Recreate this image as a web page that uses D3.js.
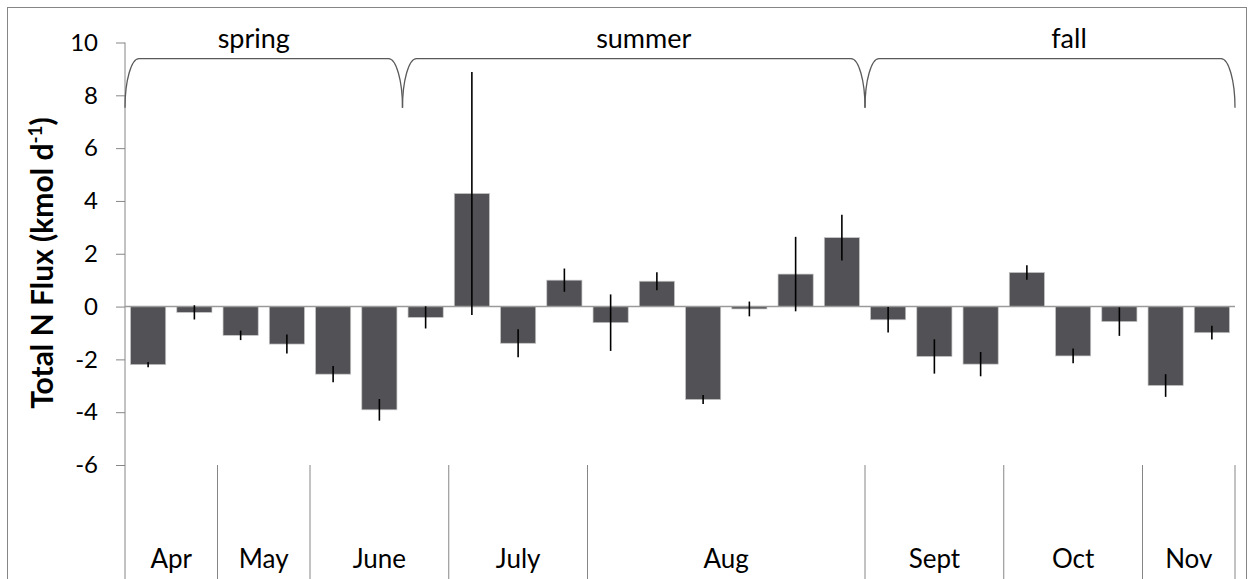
<!DOCTYPE html>
<html>
<head>
<meta charset="utf-8">
<script src="https://cdn.jsdelivr.net/npm/d3@7"></script>
<style>
  html, body { margin: 0; padding: 0; background: #fff; }
  svg { display: block; }
  text { font-family: Lato, "Noto Sans", sans-serif; fill: #000; }
</style>
</head>
<body>
<svg id="chart" width="1253" height="579"></svg>
<script>
// Sampling events, in order, with their mean total N flux and standard error
const samples = ["Apr-1","Apr-2","May-1","May-2","Jun-1","Jun-2","Jun-3",
                 "Jul-1","Jul-2","Jul-3","Aug-1","Aug-2","Aug-3","Aug-4","Aug-5","Aug-6",
                 "Sep-1","Sep-2","Sep-3","Oct-1","Oct-2","Oct-3","Nov-1","Nov-2"];
const fluxMean = [-2.2, -0.22, -1.09, -1.42, -2.56, -3.91, -0.41,
                  4.28, -1.39, 1.0, -0.61, 0.96, -3.52, -0.09, 1.23, 2.61,
                  -0.5, -1.89, -2.18, 1.29, -1.87, -0.57, -2.99, -0.99];
const fluxErr = [0.1, 0.27, 0.18, 0.36, 0.31, 0.41, 0.42,
                 4.6, 0.53, 0.44, 1.07, 0.34, 0.17, 0.28, 1.41, 0.87,
                 0.48, 0.65, 0.46, 0.27, 0.28, 0.54, 0.43, 0.26];

// Month groups along the category axis (number of samples in each)
const months = ["Apr", "May", "June", "July", "Aug", "Sept", "Oct", "Nov"];
const monthCounts = [2, 2, 3, 3, 6, 3, 3, 2];

// Seasons bracketed above the bars (number of samples in each)
const seasons = ["spring", "summer", "fall"];
const seasonCounts = [6, 10, 8];

const yTicks = [10, 8, 6, 4, 2, 0, -2, -4, -6];

const svg = d3.select("#chart");
const W = 1253, H = 579;
const left = 125, right = 1235;

const x = d3.scaleBand()
  .domain(samples)
  .range([left, right])
  .paddingInner(0.24)
  .paddingOuter(0.12);
const step = x.step();
const edge = i => left + i * step;   // boundary before the i-th sample

const y = d3.scaleLinear().domain([-6, 10]).range([465, 42.5]);

// Outer chart frame
svg.append("rect")
  .attr("x", 7.5).attr("y", 7.5)
  .attr("width", 1239).attr("height", H + 20)
  .attr("fill", "none").attr("stroke", "#868686").attr("stroke-width", 1);

// Value axis
const yAxis = d3.axisLeft(y).tickValues(yTicks).tickSize(9).tickPadding(18)
  .tickFormat(d3.format("d"));
const ga = svg.append("g").attr("transform", `translate(${left},0)`).call(yAxis);
ga.select(".domain").remove();
ga.selectAll(".tick line").attr("stroke", "#868686");
ga.selectAll(".tick text")
  .style("font-size", "24px")
  .style("font-family", "Lato, sans-serif")
  .attr("fill", "#000")
  .attr("text-anchor", "end")
  .text(d => d < 0 ? "-" + Math.abs(d) : d);
svg.append("line")
  .attr("x1", left).attr("x2", left)
  .attr("y1", y(10)).attr("y2", H)
  .attr("stroke", "#868686").attr("stroke-width", 1);

// Axis title
const title = svg.append("text")
  .attr("transform", `translate(53,${263}) rotate(-90)`)
  .attr("text-anchor", "middle")
  .style("font-size", "30px")
  .style("font-weight", "bold");
title.append("tspan").text("Total N Flux (kmol d");
title.append("tspan").attr("dy", -11).style("font-size", "19px").text("-1");
title.append("tspan").attr("dy", 11).text(")");

// Month dividers and labels below the plot
let cum = [0];
monthCounts.forEach(c => cum.push(cum[cum.length - 1] + c));
svg.append("g").selectAll("line")
  .data(cum.slice(1))
  .join("line")
  .attr("x1", d => edge(d)).attr("x2", d => edge(d))
  .attr("y1", y(-6)).attr("y2", H)
  .attr("stroke", "#868686").attr("stroke-width", 1);
svg.append("g").selectAll("text")
  .data(months)
  .join("text")
  .attr("x", (d, i) => (edge(cum[i]) + edge(cum[i + 1])) / 2)
  .attr("y", 568)
  .attr("text-anchor", "middle")
  .style("font-size", "26px")
  .text(d => d);

// Bars
svg.append("g").selectAll("rect")
  .data(samples)
  .join("rect")
  .attr("x", d => x(d))
  .attr("width", x.bandwidth())
  .attr("y", (d, i) => y(Math.max(0, fluxMean[i])))
  .attr("height", (d, i) => Math.abs(y(fluxMean[i]) - y(0)))
  .attr("fill", "#525256")
  .attr("stroke", "#c4c4c4")
  .attr("stroke-width", 0.7);

// Zero line
svg.append("line")
  .attr("x1", left).attr("x2", right)
  .attr("y1", y(0)).attr("y2", y(0))
  .attr("stroke", "#9a9a9a").attr("stroke-width", 1.6);

// Error bars (no caps)
svg.append("g").selectAll("line")
  .data(samples)
  .join("line")
  .attr("x1", d => x(d) + x.bandwidth() / 2)
  .attr("x2", d => x(d) + x.bandwidth() / 2)
  .attr("y1", (d, i) => y(fluxMean[i] + fluxErr[i]))
  .attr("y2", (d, i) => y(fluxMean[i] - fluxErr[i]))
  .attr("stroke", "#000").attr("stroke-width", 1.6);

// Season brackets
const yb = y(7.53), yt = y(9.39), r = 14, k = 0.552;
let sc = [0];
seasonCounts.forEach(c => sc.push(sc[sc.length - 1] + c));
const bracket = (x0, x1) => {
  const h = yb - yt;
  return `M${x0},${yb} C${x0},${yb - k * h} ${x0 + (1 - k) * r},${yt} ${x0 + r},${yt}` +
         ` L${x1 - r},${yt} C${x1 - (1 - k) * r},${yt} ${x1},${yb - k * h} ${x1},${yb}`;
};
svg.append("g").selectAll("path")
  .data(seasons)
  .join("path")
  .attr("d", (d, i) => bracket(edge(sc[i]), edge(sc[i + 1])))
  .attr("fill", "none")
  .attr("stroke", "#5a5a5a")
  .attr("stroke-width", 1.3);

const seasonDx = [-10, 10, 19];
svg.append("g").selectAll("text")
  .data(seasons)
  .join("text")
  .attr("x", (d, i) => (edge(sc[i]) + edge(sc[i + 1])) / 2 + seasonDx[i])
  .attr("y", 48)
  .attr("text-anchor", "middle")
  .style("font-size", "27px")
  .text(d => d);
</script>
</body>
</html>
